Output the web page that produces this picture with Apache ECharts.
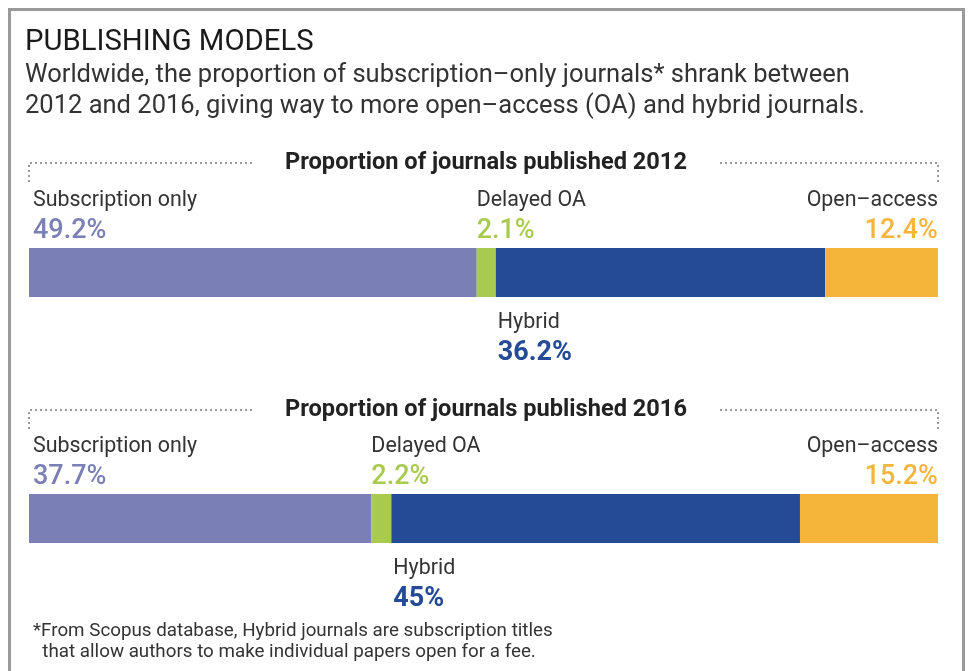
<!DOCTYPE html>
<html><head><meta charset="utf-8">
<script src="https://cdn.jsdelivr.net/npm/echarts@6/dist/echarts.min.js"></script>
<style>html,body{margin:0;padding:0;background:#fff}#c{width:973px;height:671px}</style>
</head><body><div id="c"></div>
<script>
const categories = ['Subscription only', 'Delayed OA', 'Hybrid', 'Open–access'];
const years = ['2012', '2016'];
const values2012 = [49.2, 2.1, 36.2, 12.4];
const values2016 = [37.7, 2.2, 45, 15.2];
const valueLabels2012 = ['49.2%', '2.1%', '36.2%', '12.4%'];
const valueLabels2016 = ['37.7%', '2.2%', '45%', '15.2%'];
const colors = ['#7a7fb6', '#a8cb4f', '#254a96', '#f5b53a'];

const FONT = 'Roboto, sans-serif';
const chart = echarts.init(document.getElementById('c'));
const sets = [values2012, values2016];
const vlabels = [valueLabels2012, valueLabels2016];
const gridTops = [248, 494];

function labelFor(i, color, text) {
  const name = categories[i];
  const rich = {
    n: {fontSize: 21.4, lineHeight: 30, color: '#333', fontFamily: FONT},
    v: {fontSize: 27, lineHeight: 30, color: color, fontFamily: FONT, fontWeight: i === 2 ? 'bold' : 500}
  };
  let pos, align = 'left';
  if (i === 0) pos = [4, -62];
  else if (i === 1) pos = [0, -62];
  else if (i === 2) pos = [2, 60];
  else { pos = ['100%', -62]; align = 'right'; }
  return {show: true, position: pos, align: align, verticalAlign: 'top',
    formatter: '{n|' + name + '}\n{v|' + text + '}', rich: rich};
}

const series = [];
sets.forEach((vals, g) => {
  vals.forEach((v, i) => {
    series.push({
      type: 'bar', name: categories[i] + ' ' + years[g], stack: 's' + g,
      xAxisIndex: g, yAxisIndex: g, barWidth: '100%',
      itemStyle: {color: colors[i]},
      label: labelFor(i, colors[i], vlabels[g][i]),
      data: [v], silent: true
    });
  });
});

const graphics = [
  {type: 'rect', shape: {x: 9.5, y: 9.5, width: 954, height: 700}, style: {fill: 'none', stroke: '#9a9a9a', lineWidth: 3}},
  {type: 'text', left: 25, top: 28, style: {text: 'PUBLISHING MODELS', fontSize: 29.3, fontFamily: FONT, fill: '#1a1a1a'}},
  {type: 'text', left: 25, top: 60, style: {text: 'Worldwide, the proportion of subscription–only journals* shrank between\n2012 and 2016, giving way to more open–access (OA) and hybrid journals.', fontSize: 25.5, lineHeight: 31, fontFamily: FONT, fill: '#333'}},
  {type: 'text', left: 33, top: 621, style: {text: '*From Scopus database, Hybrid journals are subscription titles\n  that allow authors to make individual papers open for a fee.', fontSize: 18.8, lineHeight: 21, fontFamily: FONT, fill: '#333'}}
];
const headY = [162, 409];
years.forEach((y, g) => {
  const yy = headY[g];
  graphics.push({type: 'text', x: 486, y: yy + 1, style: {text: 'Proportion of journals published ' + y, fontSize: 23.6, fontWeight: 'bold', fontFamily: FONT, fill: '#222', align: 'center', verticalAlign: 'middle'}});
  const ls = {stroke: '#999', lineWidth: 2, lineDash: [2, 3]};
  graphics.push({type: 'polyline', shape: {points: [[252, yy + 1], [29, yy + 1], [29, yy + 21]]}, style: ls});
  graphics.push({type: 'polyline', shape: {points: [[720, yy + 1], [938, yy + 1], [938, yy + 21]]}, style: ls});
});

chart.setOption({
  animation: false,
  grid: gridTops.map(t => ({left: 29, right: 35, top: t, height: 49})),
  xAxis: sets.map((vals, g) => ({type: 'value', gridIndex: g, min: 0, max: vals.reduce((a, b) => a + b, 0), show: false})),
  yAxis: sets.map((vals, g) => ({type: 'category', gridIndex: g, data: [years[g]], show: false})),
  series: series,
  graphic: graphics
});
</script></body></html>
